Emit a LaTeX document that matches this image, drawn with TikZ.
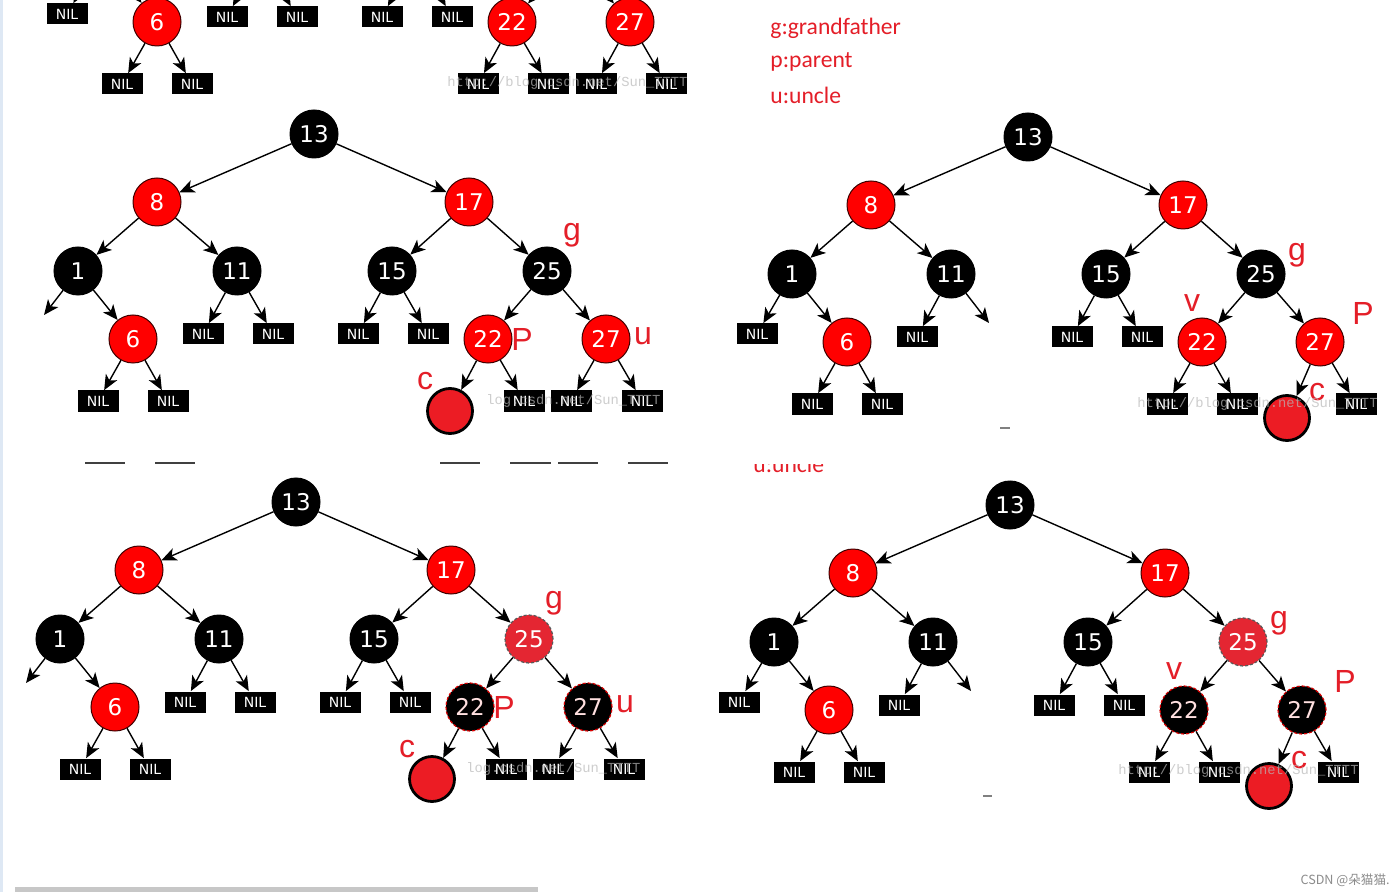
\documentclass[tikz,border=0pt]{standalone}
\usepackage{fontspec}
\setmainfont{DejaVu Sans}
\newfontfamily\numfont{DejaVu Sans}
\newfontfamily\legfont{Carlito}
\newfontfamily\wmfont{Liberation Mono}
\newfontfamily\cjkfont{Noto Sans CJK SC}
\newfontfamily\handfont{Liberation Sans}
\usetikzlibrary{arrows.meta}
\definecolor{nred}{RGB}{255,0,0}
\definecolor{hred}{RGB}{228,30,40}
\definecolor{gred}{RGB}{228,38,50}
\definecolor{cred}{RGB}{236,28,36}
\definecolor{sidebar}{RGB}{222,232,244}
\tikzset{
  base/.style={circle,minimum size=24pt,inner sep=0pt,text=white,font=\numfont\fontsize{11.5pt}{12pt}\selectfont},
  rd/.style={base,fill=nred,draw=black!75!red,line width=0.5pt},
  bk/.style={base,fill=black,draw=black,line width=0.5pt},
  gnode/.style={base,fill=gred,draw=black!65,line width=0.6pt,dash pattern=on 1.5pt off 1pt},
  pnode/.style={base,fill=black,draw=red!85!black,line width=0.6pt,dash pattern=on 1.5pt off 1pt,text=white!88!red},
  cnode/.style={circle,minimum size=22.5pt,inner sep=0pt,fill=cred,draw=black,line width=1.4pt},
  nil/.style={rectangle,fill=black,minimum width=20.5pt,minimum height=10.5pt,inner sep=0pt,text=white,font=\numfont\fontsize{7pt}{8pt}\selectfont},
  edge/.style={draw=black,line width=0.7pt,-{Stealth[length=7.5pt,width=6.5pt,inset=2pt]}},
  hand/.style={text=hred,font=\handfont\fontsize{16pt}{18pt}\selectfont,inner sep=0pt},
  legend/.style={text=hred,font=\legfont\fontsize{11.8pt}{13pt}\selectfont,anchor=west,inner sep=0pt},
  wm/.style={text=black!28,opacity=0.7,font=\wmfont\fontsize{6.9pt}{8pt}\selectfont,anchor=west,inner sep=0pt},
  uline/.style={draw=black!75,line width=0.8pt},
}
\newcommand\treecore[3]{%
  \node[bk] (#1-13) at (314,134) {13};
  \node[rd] (#1-8) at (157,202) {8};
  \node[rd] (#1-17) at (469,202) {17};
  \node[bk] (#1-1) at (78,271) {1};
  \node[bk] (#1-11) at (237,271) {11};
  \node[bk] (#1-15) at (392,271) {15};
  \node[#2] (#1-25) at (547,271) {25};
  \node[rd] (#1-6) at (133,339) {6};
  \node[#3] (#1-22) at (488,339) {22};
  \node[#3] (#1-27) at (606,339) {27};
  \node[nil] (#1-11L) at (203,334) {NIL};
  \node[nil] (#1-15L) at (358,334) {NIL};
  \node[nil] (#1-15R) at (428,334) {NIL};
  \node[nil] (#1-6L) at (98,401) {NIL};
  \node[nil] (#1-6R) at (168,401) {NIL};
  \draw[edge] (#1-13) -- (#1-8);
  \draw[edge] (#1-13) -- (#1-17);
  \draw[edge] (#1-8) -- (#1-1);
  \draw[edge] (#1-8) -- (#1-11);
  \draw[edge] (#1-17) -- (#1-15);
  \draw[edge] (#1-17) -- (#1-25);
  \draw[edge] (#1-1) -- (#1-6);
  \draw[edge] (#1-25) -- (#1-22);
  \draw[edge] (#1-25) -- (#1-27);
  \draw[edge] (#1-11) -- (#1-11L);
  \draw[edge] (#1-15) -- (#1-15L);
  \draw[edge] (#1-15) -- (#1-15R);
  \draw[edge] (#1-6) -- (#1-6L);
  \draw[edge] (#1-6) -- (#1-6R);
}
\newcommand\treeleft[3]{%
  \treecore{#1}{#2}{#3}
  \coordinate (#1-1L) at (44,315);
  \node[nil] (#1-11R) at (273,334) {NIL};
  \node[cnode] (#1-22L) at (450,411) {};
  \node[nil] (#1-22R) at (524,401) {NIL};
  \node[nil] (#1-27L) at (571,401) {NIL};
  \node[nil] (#1-27R) at (642,401) {NIL};
  \draw[edge] (#1-1) -- (#1-1L);
  \draw[edge] (#1-11) -- (#1-11R);
  \draw[edge] (#1-22) -- (#1-22L);
  \draw[edge] (#1-22) -- (#1-22R);
  \draw[edge] (#1-27) -- (#1-27L);
  \draw[edge] (#1-27) -- (#1-27R);
  \node[hand] (#1-g) at (572,235) {g};
  \node[hand] (#1-p) at (522,339) {P};
  \node[hand] (#1-u) at (643,336) {u};
  \node[hand] (#1-c) at (425,381) {c};
}
\newcommand\treeright[3]{%
  \treecore{#1}{#2}{#3}
  \node[nil] (#1-1L) at (43,331) {NIL};
  \coordinate (#1-11R) at (275,320);
  \node[nil] (#1-22L) at (453,401) {NIL};
  \node[nil] (#1-22R) at (523,401) {NIL};
  \node[cnode] (#1-27L) at (573,415) {};
  \node[nil] (#1-27R) at (642,401) {NIL};
  \draw[edge] (#1-1) -- (#1-1L);
  \draw[edge] (#1-11) -- (#1-11R);
  \draw[edge] (#1-22) -- (#1-22L);
  \draw[edge] (#1-22) -- (#1-22R);
  \draw[edge] (#1-27) -- (#1-27L);
  \draw[edge] (#1-27) -- (#1-27R);
  \node[hand] (#1-g) at (583,252) {g};
  \node[hand] (#1-v) at (478,300) {v};
  \node[hand] (#1-p) at (649,310) {P};
  \node[hand] (#1-c) at (603,389) {c};
}
\begin{document}
\begin{tikzpicture}[x=0.5pt,y=-0.5pt]
\useasboundingbox (0,0) rectangle (1400,892);
\clip (0,0) rectangle (1400,892);
\fill[white] (0,0) rectangle (1400,892);
\fill[sidebar] (0,0) rectangle (3,892);
\fill[black!22] (15,887) rectangle (538,892);

% top strip (bottom of a tree, cut off)
\begin{scope}[shift={(24,-317)}]
  \coordinate (t-1) at (78,271);
  \coordinate (t-11) at (237,271);
  \coordinate (t-15) at (392,271);
  \coordinate (t-25) at (547,271);
  \node[rd] (t-6) at (133,339) {6};
  \node[rd] (t-22) at (488,339) {22};
  \node[rd] (t-27) at (606,339) {27};
  \node[nil] (t-1L) at (43,331) {NIL};
  \node[nil] (t-11L) at (203,334) {NIL};
  \node[nil] (t-11R) at (273,334) {NIL};
  \node[nil] (t-15L) at (358,334) {NIL};
  \node[nil] (t-15R) at (428,334) {NIL};
  \node[nil] (t-6L) at (98,401) {NIL};
  \node[nil] (t-6R) at (168,401) {NIL};
  \node[nil] (t-22L) at (454,401) {NIL};
  \node[nil] (t-22R) at (524,401) {NIL};
  \node[nil] (t-27L) at (572,401) {NIL};
  \node[nil] (t-27R) at (642,401) {NIL};
  \draw[edge,shorten <=12pt] (t-1) -- (t-1L);
  \draw[edge,shorten <=12pt] (t-1) -- (t-6);
  \draw[edge,shorten <=12pt] (t-11) -- (t-11L);
  \draw[edge,shorten <=12pt] (t-11) -- (t-11R);
  \draw[edge,shorten <=12pt] (t-15) -- (t-15L);
  \draw[edge,shorten <=12pt] (t-15) -- (t-15R);
  \draw[edge,shorten <=12pt] (t-25) -- (t-22);
  \draw[edge,shorten <=12pt] (t-25) -- (t-27);
  \draw[edge] (t-6) -- (t-6L);
  \draw[edge] (t-6) -- (t-6R);
  \draw[edge] (t-22) -- (t-22L);
  \draw[edge] (t-22) -- (t-22R);
  \draw[edge] (t-27) -- (t-27L);
  \draw[edge] (t-27) -- (t-27R);
\end{scope}
\node[wm] (wm0) at (447,83) {http://blog.csdn.net/Sun\_TTTT};

% legend
\node[legend] (lg) at (770,28) {g:grandfather};
\node[legend] (lp) at (770,62) {p:parent};
\node[legend] (lu) at (770,95) {u:uncle};
\begin{scope}
  \clip (740,464) rectangle (840,480);
  \node[legend] (lu2) at (753,464) {u:uncle};
\end{scope}

% tree 1
\treeleft{a}{bk}{rd}
\node[wm] (wm1) at (486,401) {log.csdn.net/Sun\_TTTT};
\foreach \xa/\xb in {85/125,155/195,440/480,510/551,558/598,628/668}
  \draw[uline] (\xa,463) -- (\xb,463);

% tree 2
\begin{scope}[shift={(714,3)}]
  \treeright{b}{bk}{rd}
\end{scope}
\node[wm] (wm2) at (1137,404) {http://blog.csdn.net/Sun\_TTTT};
\draw[black!50,line width=0.6pt] (1000,428) -- (1010,428);

% tree 3
\begin{scope}[shift={(-18,368)}]
  \treeleft{c}{gnode}{pnode}
\end{scope}
\node[wm] (wm3) at (466,769) {log.csdn.net/Sun\_TTTT};

% tree 4
\begin{scope}[shift={(696,371)}]
  \treeright{d}{gnode}{pnode}
\end{scope}
\node[wm] (wm4) at (1118,771) {http://blog.csdn.net/Sun\_TTTT};
\draw[black!50,line width=0.6pt] (983,796) -- (992,796);

\node[text=black!45,font=\cjkfont\fontsize{6.3pt}{7pt}\selectfont,anchor=east,inner sep=0pt] (csdn) at (1390,880) {CSDN @朵猫猫.};
\end{tikzpicture}
\end{document}
